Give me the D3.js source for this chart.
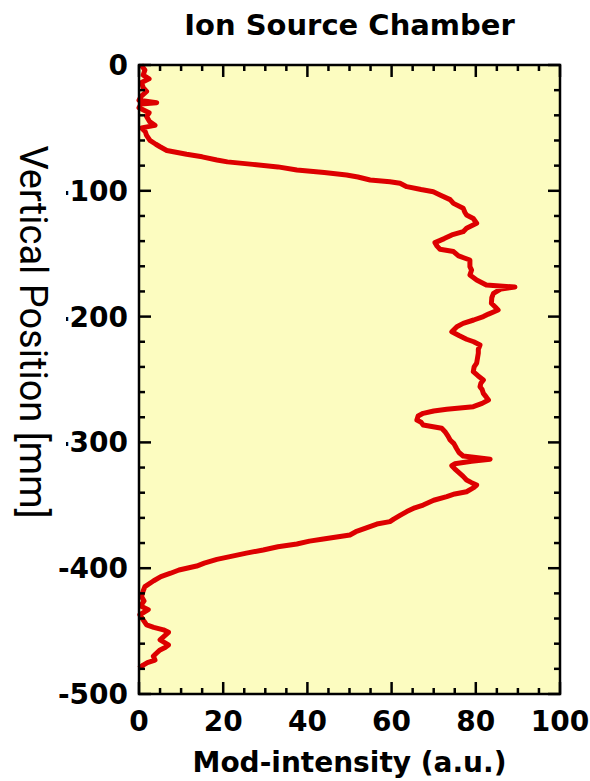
<!DOCTYPE html>
<html>
<head>
<meta charset="utf-8">
<script src="https://cdn.jsdelivr.net/npm/d3@7"></script>
<style>
  body { margin: 0; background: #fff; }
  text { fill: #000; }
</style>
</head>
<body>
<div id="chart"></div>
<script>
// vertical position (mm) and intensity
const positions = [0, -4, -8, -11, -14, -18, -21, -25, -28, -30, -31, -34, -38, -41, -45, -48, -50, -53, -56, -60,
  -63, -65, -68, -71, -73, -75.5, -77, -79, -81, -83.5, -85.5, -87.4, -89, -91.4, -92.8, -94, -96.7, -99, -100.7, -103.3,
  -107, -110, -113.9, -117, -119.2, -122, -125.8, -129.8, -132.5, -135.1, -138, -141.2, -144, -146.5, -148.3, -151.8, -155, -160.3, -163, -166.9,
  -170.9, -174.9, -176.5, -178, -181.5, -185, -189.4, -192, -194.8, -198, -200, -202.7, -205.4, -208, -212, -215, -218, -220, -222.6, -226,
  -229, -233, -237, -240, -243.8, -247, -250.4, -253, -255.7, -258, -261, -264, -266.3, -269, -271.6, -273.7, -275, -276.9, -279, -282.2,
  -284, -286.2, -288.8, -292, -295, -298.1, -301, -304.7, -308, -310.8, -312, -313.4, -315, -317, -318.5, -321, -324.6, -327, -329.9, -332,
  -333.9, -336, -339.2, -341, -343.1, -346, -349.8, -352, -355, -358, -361, -363, -364.9, -368, -371, -373.6, -376.8, -378.5, -380.8, -383,
  -385.5, -388, -390.8, -393, -396, -398.3, -401.4, -404, -406.7, -410, -414.6, -418, -422.6, -426, -430, -433, -437, -441, -445, -447,
  -449, -451, -454, -457, -459, -461, -463, -465, -468, -470, -473, -475, -477, -479.6];
const intensity = [0.5, 1.4, 1.0, 2.4, 0.6, 1.0, 1.8, 0.5, 0, 4.2, 0.5, 0, 2.4, 1.8, 2.5, 3.8, 0.6, 1.5, 1.8, 2.6,
  4.0, 5.0, 6.6, 11.3, 15, 18.5, 21, 27, 33, 37.5, 44, 49.3, 52, 54.9, 59.6, 62, 63.6, 67, 69.9, 71.5,
  73.9, 74.7, 77, 77.4, 77.8, 79.4, 80.2, 77.8, 77, 74.3, 72.5, 70.3, 70.8, 71.5, 74.7, 75.9, 78.6, 78.6, 79, 78.6,
  80.2, 82.5, 89.3, 86, 84.2, 83.8, 83.7, 84.5, 85.3, 83, 81.8, 79.5, 77, 75.5, 74.3, 76, 77.8, 79.5, 81, 80.6,
  80.6, 80.4, 80.2, 79.6, 79.4, 80.5, 81.8, 81.2, 81, 81.5, 81.8, 82.5, 83, 81.5, 79.4, 73.1, 70, 67.5, 66.3, 66,
  67, 67.5, 71.9, 72.8, 73.4, 73.9, 74.8, 75.4, 76, 77, 80, 83.4, 79, 75, 74.3, 75, 76.2, 77, 77.8, 79,
  80.2, 79.5, 77.8, 75, 73.1, 70, 67.5, 65.5, 63.6, 62, 60.5, 59.6, 56.5, 54, 51.5, 50.1, 43.8, 40.5, 37.5, 33,
  29.5, 25.5, 21.6, 18.5, 15.5, 13.7, 9.5, 7.5, 5.2, 3.5, 1.4, 1.0, 0.6, 1.2, 0.4, 2.2, 0.2, 1.0, 1.8, 3.5,
  5.8, 7.0, 6.0, 5.0, 6.0, 7.0, 6.2, 5.0, 4.0, 3.4, 3.8, 2.0, 1.0, 0];

const xTicks = [0, 20, 40, 60, 80, 100];
const yTicks = [0, -100, -200, -300, -400, -500];

const width = 590, height = 781;
const margin = { top: 65, right: 30, bottom: 87, left: 139 };

const svg = d3.select("#chart").append("svg")
    .attr("width", width)
    .attr("height", height);

const x = d3.scaleLinear().domain([0, 100]).range([margin.left, width - margin.right]);
const y = d3.scaleLinear().domain([0, -500]).range([margin.top, height - margin.bottom]);

//plot background
svg.append("rect")
    .attr("x", x(0)).attr("y", y(0))
    .attr("width", x(100) - x(0)).attr("height", y(-500) - y(0))
    .attr("fill", "#fcfcc0");

//the profile
const line = d3.line()
    .x((d, i) => x(intensity[i]))
    .y(d => y(d));
svg.append("path")
    .datum(positions)
    .attr("d", line)
    .attr("fill", "none")
    .attr("stroke", "#dd0000")
    .attr("stroke-width", 5)
    .attr("stroke-linejoin", "round");

//ticks on all four sides, pointing inward
const xMinor = d3.range(0, 101, 5);
const yMinor = d3.range(0, -501, -20);
const tk = svg.append("g").attr("stroke", "#000").attr("stroke-width", 2.5);
xMinor.forEach(v => {
    const len = v % 20 === 0 ? 12 : 6;
    tk.append("line").attr("x1", x(v)).attr("x2", x(v)).attr("y1", y(-500)).attr("y2", y(-500) - len);
    tk.append("line").attr("x1", x(v)).attr("x2", x(v)).attr("y1", y(0)).attr("y2", y(0) + len);
});
yMinor.forEach(v => {
    const len = v % 100 === 0 ? 12 : 6;
    tk.append("line").attr("x1", x(0)).attr("x2", x(0) + len).attr("y1", y(v)).attr("y2", y(v));
    tk.append("line").attr("x1", x(100)).attr("x2", x(100) - len).attr("y1", y(v)).attr("y2", y(v));
});

//frame
svg.append("rect")
    .attr("x", x(0)).attr("y", y(0))
    .attr("width", x(100) - x(0)).attr("height", y(-500) - y(0))
    .attr("fill", "none")
    .attr("stroke", "#000")
    .attr("stroke-width", 2.5);

//tick labels
const font = "'DejaVu Sans', sans-serif";
svg.append("g").selectAll("text")
    .data(xTicks)
    .enter().append("text")
    .attr("x", d => x(d))
    .attr("y", y(-500) + 37)
    .attr("text-anchor", "middle")
    .style("font", `bold 28px ${font}`)
    .text(d => d);
svg.append("g").selectAll("text")
    .data(yTicks)
    .enter().append("text")
    .attr("x", x(0) - 11)
    .attr("y", d => y(d) + 10)
    .attr("text-anchor", "end")
    .style("font", `bold 28px ${font}`)
    .text(d => d);

//titles
svg.append("text")
    .attr("x", (x(0) + x(100)) / 2)
    .attr("y", 35)
    .attr("text-anchor", "middle")
    .style("font", `bold 29px ${font}`)
    .text("Ion Source Chamber");
svg.append("text")
    .attr("x", (x(0) + x(100)) / 2)
    .attr("y", 772)
    .attr("text-anchor", "middle")
    .style("font", `bold 28px ${font}`)
    .text("Mod-intensity (a.u.)");

//y title sits on a white box that clips the minus signs
const yt = svg.append("g").attr("transform", `translate(20, 332) rotate(90)`);
yt.append("rect")
    .attr("x", -185).attr("y", -46)
    .attr("width", 370).attr("height", 66)
    .attr("fill", "#fff");
yt.append("text")
    .attr("x", 0).attr("y", 0)
    .attr("text-anchor", "middle")
    .style("font", "38px Roboto, sans-serif")
    .text("Vertical Position [mm]");
</script>
</body>
</html>
